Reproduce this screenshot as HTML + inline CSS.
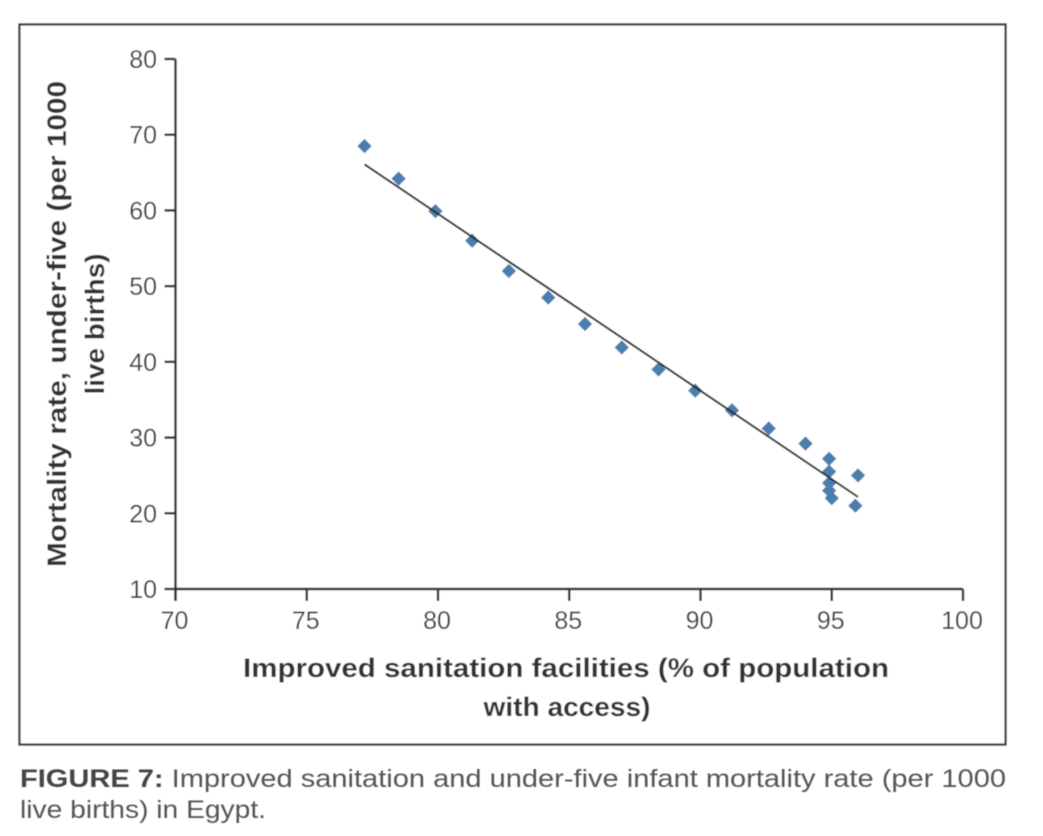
<!DOCTYPE html>
<html lang="en">
<head>
<meta charset="utf-8">
<title>Figure 7</title>
<style>
html,body{margin:0;padding:0;background:#fff;width:1043px;height:836px;overflow:hidden}
svg{display:block;font-family:"Liberation Sans",sans-serif}
</style>
</head>
<body>
<svg id="chart" xmlns="http://www.w3.org/2000/svg" width="1043" height="836" viewBox="0 0 1043 836">
<defs><filter id="soft" x="-5%" y="-5%" width="110%" height="110%"><feGaussianBlur stdDeviation="0.55"/></filter></defs>
<g id="root" filter="url(#soft)">
<rect x="19.5" y="24.5" width="986" height="720" fill="#fff" stroke="#3f3f3f" stroke-width="2.2"/>
<g id="axes"></g>
<g id="marks"></g>
<text transform="translate(66,324) rotate(-90)" text-anchor="middle" font-size="27" font-weight="700" fill="#333" textLength="486" lengthAdjust="spacingAndGlyphs">Mortality rate, under-five (per 1000</text>
<text transform="translate(104,324) rotate(-90)" text-anchor="middle" font-size="27" font-weight="700" fill="#333" textLength="141" lengthAdjust="spacingAndGlyphs">live births)</text>
<text x="566" y="677" text-anchor="middle" font-size="27" font-weight="700" fill="#333" textLength="646" lengthAdjust="spacingAndGlyphs">Improved sanitation facilities (% of population</text>
<text x="567" y="716" text-anchor="middle" font-size="27" font-weight="700" fill="#333" textLength="167" lengthAdjust="spacingAndGlyphs">with access)</text>
<text x="20" y="787" font-size="25" fill="#555" textLength="986" lengthAdjust="spacingAndGlyphs"><tspan font-weight="700" fill="#444">FIGURE 7:</tspan> Improved sanitation and under-five infant mortality rate (per 1000</text>
<text x="20" y="818" font-size="25" fill="#555" textLength="246" lengthAdjust="spacingAndGlyphs">live births) in Egypt.</text>
</g>
</svg>
<script>
const xTicks = [70, 75, 80, 85, 90, 95, 100];
const yTicks = [10, 20, 30, 40, 50, 60, 70, 80];
const sanitation = [77.2, 78.5, 79.9, 81.3, 82.7, 84.2, 85.6, 87.0, 88.4, 89.8, 91.2, 92.6, 94.0, 94.9, 94.9, 94.9, 94.9, 95.0, 95.9, 96.0];
const mortality = [68.5, 64.2, 59.9, 56.0, 52.0, 48.5, 45.0, 41.9, 39.0, 36.2, 33.6, 31.2, 29.2, 27.2, 25.5, 24.0, 23.0, 22.0, 21.0, 25.0];

const NS = 'http://www.w3.org/2000/svg';
const xScale = v => 175.5 + (v - 70) * (963 - 175.5) / 30;
const yScale = v => 589 - (v - 10) * (589 - 59) / 70;
function make(tag, attrs, parent) {
  const el = document.createElementNS(NS, tag);
  for (const k in attrs) el.setAttribute(k, attrs[k]);
  parent.appendChild(el);
  return el;
}
const axes = document.getElementById('axes');
const marks = document.getElementById('marks');
const axisStyle = {stroke: '#2e2e2e', 'stroke-width': 2.4, fill: 'none'};

const yAxisLine = make('line', Object.assign({x1: xScale(70), x2: xScale(70), y1: yScale(80), y2: yScale(10) + 12}, axisStyle), axes);


const xAxisLine = make('line', Object.assign({x1: xScale(70), x2: xScale(100), y1: yScale(10), y2: yScale(10)}, axisStyle), axes);



yTicks.forEach(t => {
  const y = yScale(t);
  const tick = make('line', Object.assign({x1: xScale(70) - 11, x2: xScale(70), y1: y, y2: y}, axisStyle), axes);
  
  
  const label = make('text', {x: 157, y: y + 9, 'text-anchor': 'end', 'font-size': 25, fill: '#3d3d3d'}, axes);
  label.textContent = t;
  
  
});
xTicks.forEach(t => {
  const x = xScale(t);
  const tick = make('line', Object.assign({x1: x, x2: x, y1: yScale(10), y2: yScale(10) + 12}, axisStyle), axes);
  
  
  const label = make('text', {x: x - 1, y: 629, 'text-anchor': 'middle', 'font-size': 25, fill: '#3d3d3d'}, axes);
  label.textContent = t;
  
  
});

sanitation.forEach((v, i) => {
  const cx = xScale(v), cy = yScale(mortality[i]), r = 7.2;
  const p = make('polygon', {points: `${cx},${cy - r} ${cx + r},${cy} ${cx},${cy + r} ${cx - r},${cy}`, fill: '#4c7dae'}, marks);
  
  
});

// Least-squares trendline derived from the series
const n = sanitation.length;
const mx = sanitation.reduce((a, b) => a + b, 0) / n;
const my = mortality.reduce((a, b) => a + b, 0) / n;
let sxy = 0, sxx = 0;
sanitation.forEach((v, i) => { sxy += (v - mx) * (mortality[i] - my); sxx += (v - mx) * (v - mx); });
const slope = sxy / sxx;
const fit = v => my + slope * (v - mx);
const xMin = Math.min(...sanitation), xMax = Math.max(...sanitation);
const trend = make('line', {x1: xScale(xMin), y1: yScale(fit(xMin)), x2: xScale(xMax), y2: yScale(fit(xMax)), stroke: '#262e2e', 'stroke-width': 2.1}, marks);


</script>
</body>
</html>
